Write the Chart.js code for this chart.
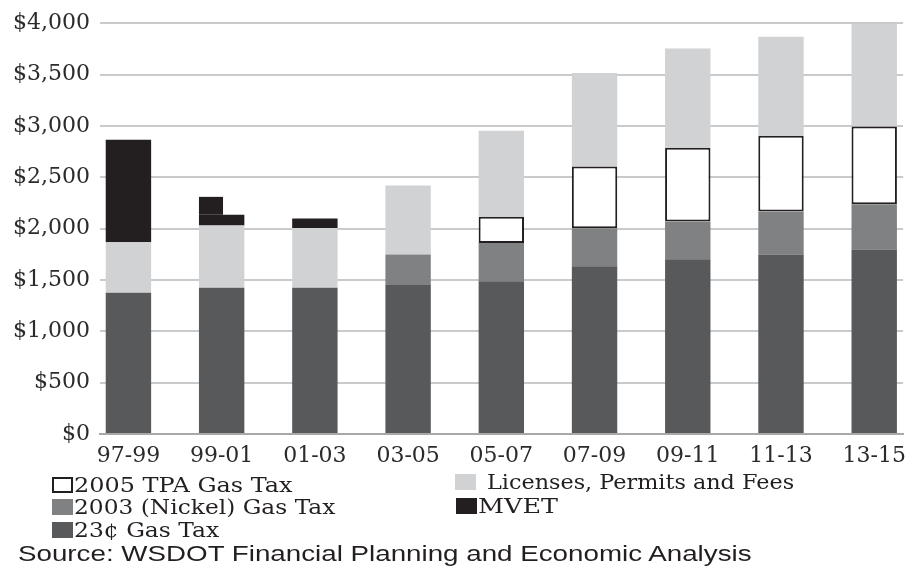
<!DOCTYPE html>
<html lang="en">
<head>
  <meta charset="UTF-8">
  <title>Transportation Revenue</title>
  <style>
    body {
      margin: 0;
      background: #fff;
    }

    .wrap {
      position: relative;
      width: 907px;
      height: 571px;
    }

    .legend-item {
      position: absolute;
      height: 24px;
      display: flex;
      align-items: center;
      font-family: 'DejaVu Serif', serif;
      font-size: 21px;
      color: #231f20;
      white-space: nowrap;
    }

    .legend-item .box {
      width: 21px;
      height: 16px;
      box-sizing: border-box;
      margin-right: 1px;
      flex: none;
    }

    .legend-item span {
      display: inline-block;
      transform-origin: left center;
    }

    #source {
      position: absolute;
      left: 18px;
      top: 541px;
      font-family: 'Liberation Sans', Arial, sans-serif;
      font-size: 22px;
      color: #231f20;
      white-space: nowrap;
      transform-origin: left center;
    }
  </style>
</head>
<body>
  <div class="wrap">
    <canvas id="revenue-chart" width="907" height="571"></canvas>
    <div id="legend"></div>
    <div id="source">Source: WSDOT Financial Planning and Economic Analysis</div>
  </div>

  <script src="https://cdn.jsdelivr.net/npm/chart.js"></script>
  <script>
    // biennium labels
    const periods = ["97-99", "99-01", "01-03", "03-05", "05-07", "07-09", "09-11", "11-13", "13-15"];

    // $ millions, stacked bottom to top
    const gasTax23 = [1375, 1424, 1424, 1450, 1488, 1633, 1701, 1749, 1797];
    const nickelTax = [null, null, null, 299, 373, 370, 369, 418, 440];
    const tpaTax = [null, null, null, null, 255, 601, 718, 736, 757];
    const licenses = [493, 605, 582, 671, 836, 911, 965, 966, 997];
    const mvet = [997, 106, 93, null, null, null, null, null, null];
    // 99-01 MVET steps down partway through the biennium: top of the earlier part
    const mvetStepTop = [null, 2309, null, null, null, null, null, null, null];

    const yTicks = [0, 500, 1000, 1500, 2000, 2500, 3000, 3500, 4000];

    const colors = {
      gas23: "#58595b",
      nickel: "#808183",
      tpa: "#ffffff",
      licenses: "#d1d2d4",
      mvet: "#231f20",
    };

    function points(values) {
      return values.map((v, i) => ({ x: i, y: v }));
    }

    // draws the taller left part of a stepped MVET bar, using the bar element and y scale
    const mvetStepPlugin = {
      id: "mvetStep",
      afterDatasetsDraw(chart) {
        const idx = chart.data.datasets.findIndex((d) => d.label === "MVET");
        const meta = chart.getDatasetMeta(idx);
        const y = chart.scales.y;
        const c = chart.ctx;
        c.save();
        c.fillStyle = colors.mvet;
        mvetStepTop.forEach((top, i) => {
          if (top == null) return;
          const bar = meta.data[i];
          const left = bar.x - bar.width / 2;
          const yTop = y.getPixelForValue(top);
          c.fillRect(left, yTop, bar.width * 0.53, bar.y - yTop);
        });
        c.restore();
      },
    };

    const ctx = document.getElementById("revenue-chart").getContext("2d");

    const barStyle = { categoryPercentage: 1, barPercentage: 0.487 };

    const chart = new Chart(ctx, {
      type: "bar",
      data: {
        datasets: [
          { ...barStyle, label: "23\u00a2 Gas Tax", data: points(gasTax23), backgroundColor: colors.gas23 },
          { ...barStyle, label: "2003 (Nickel) Gas Tax", data: points(nickelTax), backgroundColor: colors.nickel },
          {
            ...barStyle, label: "2005 TPA Gas Tax", data: points(tpaTax),
            backgroundColor: colors.tpa, borderColor: "#231f20", borderWidth: 2, borderSkipped: false,
          },
          { ...barStyle, label: "Licenses, Permits and Fees", data: points(licenses), backgroundColor: colors.licenses },
          { ...barStyle, label: "MVET", data: points(mvet), backgroundColor: colors.mvet },
        ],
      },
      plugins: [mvetStepPlugin],
      options: {
        responsive: false,
        animation: false,
        layout: { padding: { top: 19, right: 2, bottom: 107, left: 0 } },
        plugins: {
          legend: { display: false },
          tooltip: { enabled: false },
        },
        scales: {
          x: {
            type: "linear",
            min: -0.305,
            max: 8.31,
            offset: false,
            stacked: true,
            afterBuildTicks: (s) => { s.ticks = periods.map((p, i) => ({ value: i })); },
            afterFit: (s) => { s.height = 30; },
            grid: { display: false },
            border: { display: true, color: "#a7a8aa", width: 2 },
            ticks: {
              padding: 1,
              color: "#2b2b2b",
              font: { family: "'DejaVu Serif', serif", size: 22 },
              callback: (v) => periods[v],
            },
          },
          y: {
            stacked: true,
            min: 0,
            max: 4000,
            afterBuildTicks: (s) => { s.ticks = yTicks.map((v) => ({ value: v })); },
            afterFit: (s) => { s.width = 100; },
            border: { display: false },
            grid: { color: "#c9cacc", lineWidth: 2, drawTicks: false },
            ticks: {
              padding: 10,
              color: "#2b2b2b",
              font: { family: "'DejaVu Serif', serif", size: 22 },
              callback: (v) => "$" + v.toLocaleString("en-US"),
            },
          },
        },
      },
    });

    // legend built from the datasets, laid out in two columns like the original
    const legendSlots = [
      { label: "2005 TPA Gas Tax", left: 52, top: 473, width: 219 },
      { label: "2003 (Nickel) Gas Tax", left: 52, top: 495, width: 261 },
      { label: "23\u00a2 Gas Tax", left: 52, top: 518, width: 145 },
      { label: "Licenses, Permits and Fees", left: 455, top: 470, width: 307, gap: 11 },
      { label: "MVET", left: 456, top: 494, width: 80 },
    ];

    const legendEl = document.getElementById("legend");
    legendSlots.forEach((slot) => {
      const ds = chart.data.datasets.find((d) => d.label === slot.label);
      const item = document.createElement("div");
      item.className = "legend-item";
      item.style.left = slot.left + "px";
      item.style.top = slot.top + "px";
      const box = document.createElement("div");
      box.className = "box";
      box.style.background = ds.backgroundColor;
      if (ds.borderWidth) box.style.border = "2px solid " + ds.borderColor;
      if (slot.gap) box.style.marginRight = slot.gap + "px";
      const text = document.createElement("span");
      text.textContent = ds.label;
      item.appendChild(box);
      item.appendChild(text);
      legendEl.appendChild(item);
      text.style.transform = "scaleX(" + (slot.width / text.offsetWidth) + ")";
    });

    const source = document.getElementById("source");
    source.style.transform = "scaleX(" + (734 / source.offsetWidth) + ")";
  </script>
</body>
</html>
